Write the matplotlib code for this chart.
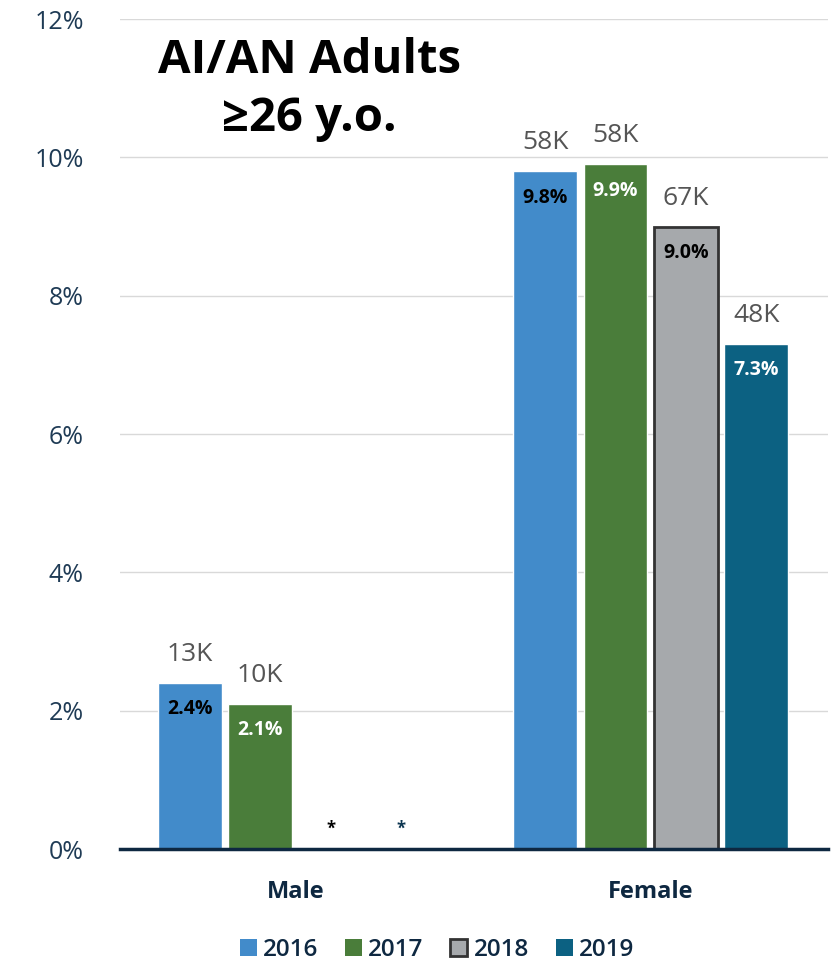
import matplotlib
matplotlib.use("Agg")
import matplotlib.pyplot as plt
from matplotlib.patches import Patch
import numpy as np

plt.rcParams['font.family'] = ['Open Sans', 'DejaVu Sans']

groups = ["Male", "Female"]
years = ["2016", "2017", "2018", "2019"]
values = {
    "2016": [2.4, 9.8],
    "2017": [2.1, 9.9],
    "2018": [None, 9.0],
    "2019": [None, 7.3],
}
counts = {
    "2016": ["13K", "58K"],
    "2017": ["10K", "58K"],
    "2018": [None, "67K"],
    "2019": [None, "48K"],
}
colors = {"2016": "#428BCA", "2017": "#4A7D3A", "2018": "#A6A9AC", "2019": "#0C6182"}
edges = {"2016": "white", "2017": "white", "2018": "#333333", "2019": "white"}
inner_text = {"2016": "black", "2017": "white", "2018": "black", "2019": "white"}
star_color = {"2018": "black", "2019": "#0C3550"}

fig = plt.figure(figsize=(8.36, 9.65), dpi=100)
ax = fig.add_axes([0.1435, 0.1202, 0.8465, 0.8601])

x = np.arange(len(groups))
step = 0.198
width = 0.18
offsets = (np.arange(len(years)) - 1.5) * step

for i, yr in enumerate(years):
    for j, g in enumerate(groups):
        v = values[yr][j]
        xp = x[j] + offsets[i]
        if v is None:
            ax.text(xp, 0.3, "*", ha="center", va="center", fontsize=12,
                    fontweight="bold", color=star_color[yr])
            continue
        lw = 2 if yr == "2018" else 1
        ax.bar(xp, v, width=width, color=colors[yr], edgecolor=edges[yr],
               linewidth=lw, zorder=3)
        ax.annotate(f"{v:.1f}%", (xp, v), xytext=(0, -19), textcoords="offset points",
                    ha="center", va="center", fontsize=14, fontweight="bold",
                    color=inner_text[yr], zorder=4)
        ax.annotate(counts[yr][j], (xp, v), xytext=(0, 20.5), textcoords="offset points",
                    ha="center", va="center", fontsize=19, color="#555555", zorder=4)

ax.set_xlim(-0.4937, 1.498)
ax.set_ylim(0, 12)
ax.set_yticks(np.arange(0, 13, 2))
ax.set_yticklabels([f"{t}%" for t in range(0, 13, 2)], fontsize=18, color="#1F3B55")
ax.yaxis.grid(True, color="#D9D9D9", linewidth=1, zorder=0)
ax.set_axisbelow(True)
ax.tick_params(axis="y", length=0, pad=26)
ax.set_xticks(x)
ax.set_xticklabels(groups)
for lbl in ax.get_xticklabels():
    lbl.set_fontsize(17)
    lbl.set_fontweight("bold")
    lbl.set_color("#0E2841")
ax.tick_params(axis="x", length=0, pad=22)
for s in ["top", "right", "left"]:
    ax.spines[s].set_visible(False)
ax.spines["bottom"].set_color("#0E2841")
ax.spines["bottom"].set_linewidth(2.5)
ax.spines["bottom"].set_zorder(5)

ax.text(0.04, 10.98, "AI/AN Adults\n≥26 y.o.", ha="center", va="center",
        fontsize=34, fontweight="bold", color="black", linespacing=1.3)

handles = [Patch(facecolor=colors[y], edgecolor=edges[y] if y == "2018" else colors[y],
                 linewidth=2 if y == "2018" else 0) for y in years]
leg = fig.legend(handles, years, loc="center", bbox_to_anchor=(437 / 836, 1 - 950 / 965),
                 ncol=4, frameon=False, handlelength=0.7, handleheight=0.7,
                 handletextpad=0.25, columnspacing=1.1,
                 prop={"size": 17.5, "weight": "semibold"})
for t in leg.get_texts():
    t.set_color("#0E2841")

fig.savefig("out.png", dpi=100)
